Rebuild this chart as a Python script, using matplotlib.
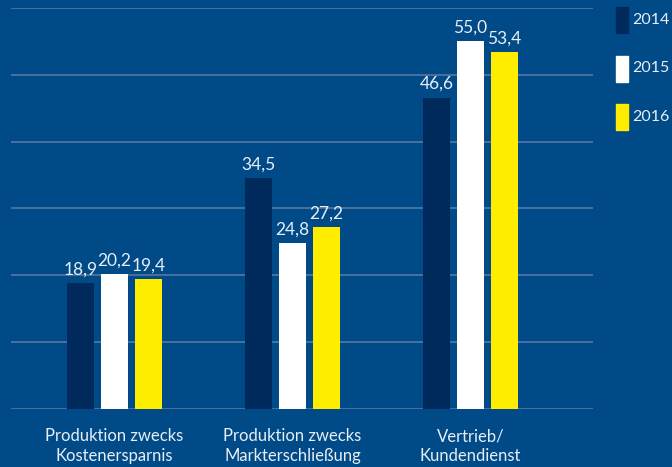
import numpy as np
import matplotlib.pyplot as plt

# Data
categories = ["Produktion zwecks\nKostenersparnis",
              "Produktion zwecks\nMarkterschließung",
              "Vertrieb/\nKundendienst"]
years = ["2014", "2015", "2016"]
values = {
    "2014": [18.9, 34.5, 46.6],
    "2015": [20.2, 24.8, 55.0],
    "2016": [19.4, 27.2, 53.4],
}
colors = {"2014": "#002a5c", "2015": "#ffffff", "2016": "#ffed00"}
bg = "#004a87"
grid_col = "#4f73a0"

plt.rcParams['font.family'] = ['Lato', 'DejaVu Sans']

fig = plt.figure(figsize=(6.72, 4.67), dpi=100, facecolor=bg)
ax = fig.add_axes([11 / 672, 1 - 409 / 467, 582 / 672, 401 / 467])
ax.set_facecolor(bg)

x = np.arange(len(categories))
width = 0.152
offset = 0.191

for yv in range(0, 61, 10):
    ax.axhline(yv, color=grid_col, lw=1.3, zorder=0)

for i, yr in enumerate(years):
    pos = x + (i - 1) * offset
    bars = ax.bar(pos, values[yr], width, color=colors[yr], zorder=2, label=yr)
    for b, v in zip(bars, values[yr]):
        ax.annotate(f"{v:.1f}".replace(".", ","),
                    (b.get_x() + b.get_width() / 2, v),
                    xytext=(0, 4), textcoords="offset points",
                    ha="center", va="bottom", color="#e8eef5", fontsize=12.5)

ax.set_xlim(-0.581, -0.581 + 582 / 178)
ax.set_ylim(0, 60)
for s in ax.spines.values():
    s.set_visible(False)
ax.set_yticks([])
ax.set_xticks(x)
ax.set_xticklabels(categories, color="#e8eef5", fontsize=12, linespacing=1.3)
ax.tick_params(axis="x", length=0, pad=14)

# legend on the right
for i, yr in enumerate(years):
    y0 = 1 - (33 + i * 48.5) / 467
    fig.patches.append(plt.Rectangle((616 / 672, y0), 12 / 672, 26 / 467,
                                     transform=fig.transFigure,
                                     color=colors[yr], figure=fig))
    fig.text(632 / 672, y0 + 13 / 467, yr, color="#e8eef5", fontsize=11.5,
             va="center", ha="left")

fig.savefig("out.png", dpi=100, facecolor=bg)
